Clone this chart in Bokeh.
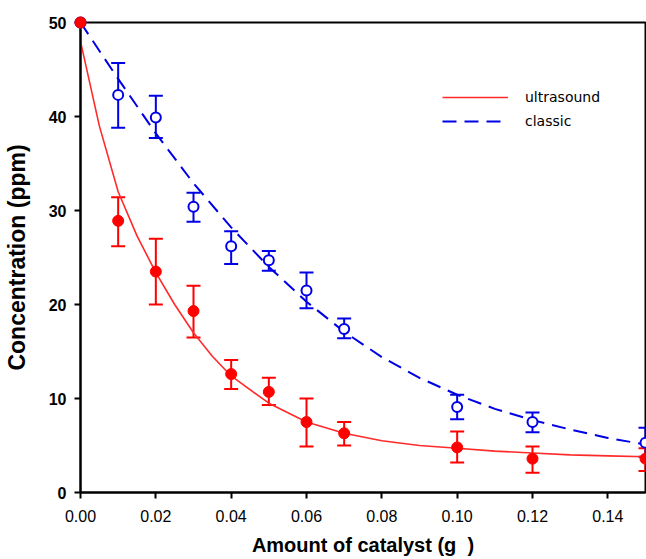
from bokeh.plotting import figure
from bokeh.models import (ColumnDataSource, Whisker, TeeHead, Legend, LegendItem,
                          FixedTicker, PrintfTickFormatter, Range1d)
from bokeh.embed import file_html
from bokeh.resources import INLINE

# ---- data ----
x_pts = [0.00, 0.01, 0.02, 0.03, 0.04, 0.05, 0.06, 0.07, 0.10, 0.12, 0.15]

us_y  = [50.0, 28.9, 23.5, 19.3, 12.6, 10.7, 7.5, 6.3, 4.8, 3.6, 3.6]
us_lo = [50.0, 26.2, 20.0, 16.5, 11.0, 9.3, 4.9, 5.0, 3.2, 2.1, 2.3]
us_hi = [50.0, 31.4, 27.0, 22.0, 14.1, 12.2, 10.0, 7.5, 6.5, 4.9, 4.7]

cl_y  = [50.0, 42.3, 39.9, 30.4, 26.2, 24.7, 21.5, 17.4, 9.1, 7.5, 5.3]
cl_lo = [50.0, 38.8, 37.7, 28.8, 24.3, 23.6, 19.6, 16.4, 7.8, 6.4, 3.8]
cl_hi = [50.0, 45.7, 42.2, 31.9, 27.8, 25.7, 23.4, 18.5, 10.4, 8.5, 6.9]

us_fit_x = [0.0, 0.005, 0.01, 0.015, 0.02, 0.025, 0.03, 0.035, 0.04, 0.05,
            0.06, 0.07, 0.08, 0.09, 0.10, 0.11, 0.12, 0.13, 0.14, 0.15]
us_fit_y = [48.0, 39.0, 32.0, 27.3, 23.4, 20.0, 17.0, 14.5, 12.4, 9.5,
            7.5, 6.3, 5.5, 5.0, 4.7, 4.4, 4.2, 4.0, 3.9, 3.8]

cl_fit_x = [0.0, 0.01, 0.02, 0.03, 0.04, 0.05, 0.06, 0.07, 0.08, 0.09,
            0.10, 0.11, 0.12, 0.13, 0.14, 0.15]
cl_fit_y = [50.0, 44.0, 38.2, 32.9, 28.2, 24.0, 20.3, 17.1, 14.4, 12.2,
            10.4, 8.9, 7.7, 6.7, 5.8, 5.1]

x_ticks = [0.00, 0.02, 0.04, 0.06, 0.08, 0.10, 0.12, 0.14]
y_ticks = [0, 10, 20, 30, 40, 50]

RED = "#ff0000"
BLUE = "#0000e6"

p = figure(width=646, height=559, output_backend="svg", toolbar_location=None,
           x_range=Range1d(0, 0.15), y_range=Range1d(0, 50),
           min_border_left=78, min_border_right=1, min_border_top=22,
           min_border_bottom=67)

p.grid.visible = False
p.background_fill_color = "white"
p.border_fill_color = "white"
p.outline_line_color = "black"
p.outline_line_width = 2

# fitted curves
r_us = p.line(us_fit_x, us_fit_y, line_color="#ff2a2a", line_width=1.6)
r_cl = p.line(cl_fit_x, cl_fit_y, line_color=BLUE, line_width=2, line_dash="14 8")

# error bars (skip the x=0 point)
src_us = ColumnDataSource(dict(x=x_pts[1:], lo=us_lo[1:], hi=us_hi[1:]))
src_cl = ColumnDataSource(dict(x=x_pts[1:], lo=cl_lo[1:], hi=cl_hi[1:]))
for src, col in ((src_cl, BLUE), (src_us, RED)):
    w = Whisker(source=src, base="x", lower="lo", upper="hi",
                line_color=col, line_width=2,
                upper_head=TeeHead(size=14, line_color=col, line_width=2),
                lower_head=TeeHead(size=14, line_color=col, line_width=2))
    p.add_layout(w)

# markers
p.scatter(x_pts, cl_y, marker="circle", size=10, fill_color="white",
          line_color=BLUE, line_width=2, level="overlay")
p.scatter(x_pts, us_y, marker="circle", size=11, fill_color=RED,
          line_color=RED, line_width=1, level="overlay")

# axes
for ax in (p.xaxis, p.yaxis):
    ax.axis_line_color = "black"
    ax.axis_line_width = 2
    ax.major_tick_line_color = "black"
    ax.major_tick_line_width = 2
    ax.major_tick_out = 6
    ax.major_tick_in = 0
    ax.minor_tick_line_color = None
    ax.major_label_text_color = "black"
    ax.major_label_text_font = "Liberation Sans"
    ax.major_label_text_font_size = "16px"
    ax.axis_label_text_color = "black"
    ax.axis_label_text_font = "Liberation Sans"
    ax.axis_label_text_font_style = "bold"

p.xaxis.ticker = FixedTicker(ticks=x_ticks)
p.xaxis.formatter = PrintfTickFormatter(format="%.2f")
p.xaxis.major_label_standoff = 11
p.xaxis.axis_label = "Amount of catalyst (g\u00a0\u00a0)"
p.xaxis.axis_label_text_font_size = "20px"
p.xaxis.axis_label_standoff = 9

p.yaxis.ticker = FixedTicker(ticks=y_ticks)
p.yaxis.major_label_text_font_style = "bold"
p.yaxis.major_label_standoff = 8
p.yaxis.axis_label = "Concentration (ppm)"
p.yaxis.axis_label_text_font_size = "23px"
p.yaxis.axis_label_standoff = 16

legend = Legend(items=[LegendItem(label="ultrasound", renderers=[r_us]),
                       LegendItem(label="classic", renderers=[r_cl])],
                location=(362, 361), glyph_width=66, glyph_height=20,
                label_height=20, label_standoff=17, spacing=4, padding=0,
                margin=0, border_line_alpha=0, background_fill_alpha=0,
                label_text_font="DejaVu Sans", label_text_font_size="14px",
                label_text_color="black")
p.add_layout(legend)

open("out.html", "w").write(file_html(p, INLINE))
